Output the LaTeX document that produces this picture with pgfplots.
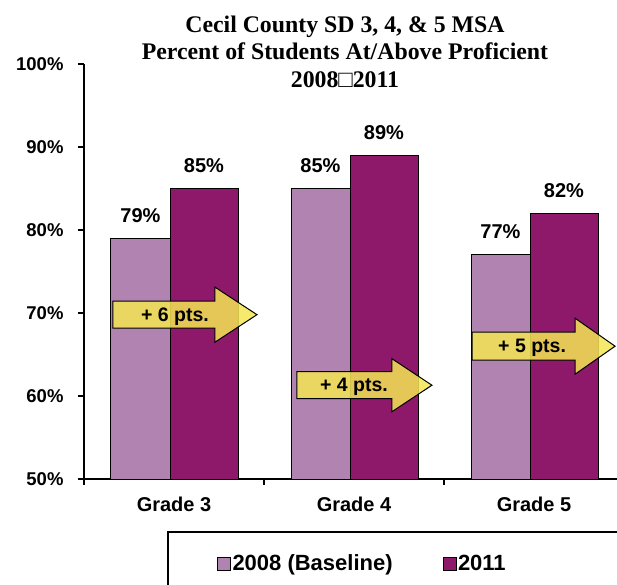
\documentclass[border=0pt]{standalone}
\usepackage{fontspec}
\setmainfont{Liberation Sans}
\newfontfamily\titlefont{Liberation Serif}
\usepackage{pgfplots}
\pgfplotsset{compat=1.18}

\definecolor{base}{RGB}{176,131,176}
\definecolor{yr}{RGB}{142,25,107}
\definecolor{arrowfill}{RGB}{245,230,85}

\begin{document}
\begin{tikzpicture}
\begin{axis}[
  scale only axis,
  width=540pt, height=415pt,
  xmin=-0.5, xmax=2.5,
  ymin=50, ymax=100,
  axis lines=left,
  axis line style={-, line width=1.2pt},
  ytick={50,60,...,100},
  yticklabels={50\%,60\%,70\%,80\%,90\%,100\%},
  xtick={0,1,2},
  xticklabels={Grade 3,Grade 4,Grade 5},
  minor xtick={-0.5,0.5,1.5,2.5},
  tick align=outside,
  major tick length=6pt,
  minor tick length=6pt,
  tick style={black, line width=1.2pt},
  major x tick style={draw=none},
  yticklabel style={font=\fontsize{18.5}{20}\selectfont\bfseries, xshift=-11pt},
  xticklabel style={font=\fontsize{20}{22}\selectfont\bfseries, yshift=-8pt},
  /pgf/number format/assume math mode=true,
  ybar,
  nodes near coords={\pgfmathprintnumber{\pgfplotspointmeta}\%},
  nodes near coords style={font=\fontsize{20}{22}\selectfont\bfseries, yshift=12pt},
  clip=false,
  legend columns=2,
  legend style={draw=none, fill=none, at={(0.2463,-0.2036)}, anchor=west,
    font=\fontsize{22}{24}\selectfont\bfseries, inner sep=0pt,
    nodes={inner sep=1.5pt},
    /tikz/every even column/.append style={column sep=48.5pt}},
  legend image code/.code={\draw[#1, line width=0.8pt] (0pt,-6.5pt) rectangle (13pt,6.5pt);},
]
\addplot[fill=base, draw=black, line width=1pt, bar width=59pt, bar shift=-33.5pt]
  coordinates {(0,79) (1,85) (2,77)};
\addplot[fill=yr, draw=black, line width=1pt, bar width=68pt, bar shift=30pt]
  coordinates {(0,85) (1,89) (2,82)};
\legend{2008 (Baseline),2011}

% improvement arrows (semi-transparent, as in the original)
\draw[fill=arrowfill, fill opacity=0.85, line width=1pt] (axis cs:-0.339,69.8)
  ++(0pt,13.5pt) -- ++(102pt,0pt) -- ++(0pt,14pt) -- ++(42pt,-27.5pt) -- ++(-42pt,-27.5pt)
  -- ++(0pt,14pt) -- ++(-102pt,0pt) -- cycle;
\node[font=\fontsize{19.5}{22}\selectfont\bfseries] at (axis cs:-0.339,69.8) [xshift=62pt, yshift=-2pt] {+ 6 pts.};
\draw[fill=arrowfill, fill opacity=0.85, line width=1pt] (axis cs:0.683,61.3)
  ++(0pt,13.5pt) -- ++(95pt,0pt) -- ++(0pt,13pt) -- ++(40pt,-26.5pt) -- ++(-40pt,-26.5pt)
  -- ++(0pt,13pt) -- ++(-95pt,0pt) -- cycle;
\node[font=\fontsize{19.5}{22}\selectfont\bfseries] at (axis cs:0.683,61.3) [xshift=57pt, yshift=-2pt] {+ 4 pts.};
\draw[fill=arrowfill, fill opacity=0.85, line width=1pt] (axis cs:1.656,66.0)
  ++(0pt,14pt) -- ++(103pt,0pt) -- ++(0pt,14pt) -- ++(40pt,-28pt) -- ++(-40pt,-28pt)
  -- ++(0pt,14pt) -- ++(-103pt,0pt) -- cycle;
\node[font=\fontsize{19.5}{22}\selectfont\bfseries] at (axis cs:1.656,66.0) [xshift=60pt, yshift=-2pt] {+ 5 pts.};

% title
\begin{scope}[every node/.style={anchor=base, inner sep=0pt,
  font=\titlefont\bfseries\fontsize{23.8}{28}\selectfont}]
\node at (rel axis cs:0.4833,1) [yshift=32pt] {Cecil County SD 3, 4, \& 5 MSA};
\node at (rel axis cs:0.4833,1) [yshift=4.5pt] {Percent of Students At/Above Proficient};
\node at (rel axis cs:0.4833,1) [yshift=-23.5pt] {2008□2011};
\end{scope}

% legend frame
\draw[line width=1.2pt] (rel axis cs:0,0) ++(84pt,-53pt) rectangle ++(600pt,-120pt);
\coordinate (sw) at (rel axis cs:0,0);
\end{axis}
\pgfresetboundingbox
\path[use as bounding box] (sw) ++(-84pt,-105pt) rectangle ++(617pt,584pt);
\end{tikzpicture}
\end{document}
